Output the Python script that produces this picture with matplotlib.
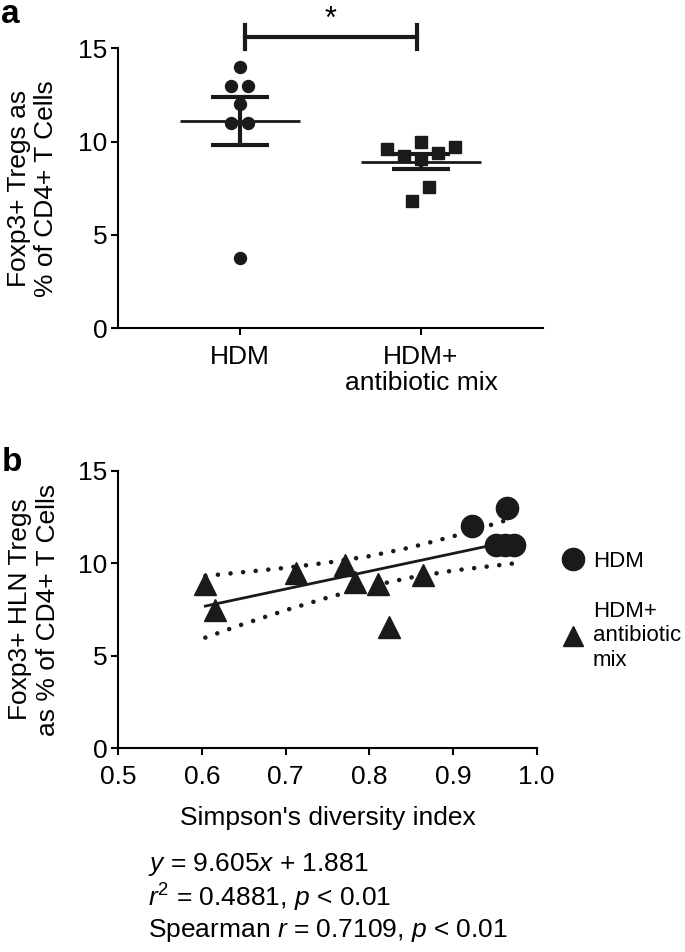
import matplotlib
matplotlib.use('Agg')
import matplotlib.pyplot as plt
from matplotlib.lines import Line2D
import numpy as np

plt.rcParams.update({
    'font.family': ['Liberation Sans', 'DejaVu Sans'],
    'font.size': 19,
    'mathtext.fontset': 'custom',
    'mathtext.rm': 'Liberation Sans',
    'mathtext.it': 'Liberation Sans:italic',
    'axes.linewidth': 1.5,
    'xtick.major.width': 1.5,
    'ytick.major.width': 1.5,
    'xtick.major.size': 5,
    'ytick.major.size': 5,
})

INK = '#1a1a1a'

# ---- panel a: Tregs per group ----
groups = ['HDM', 'HDM+\nantibiotic mix']
hdm_vals = [14.0, 13.0, 13.0, 12.0, 11.0, 11.0, 3.75]
abx_vals = [9.6, 9.23, 10.0, 9.05, 9.41, 9.69, 7.55, 6.82]
# horizontal spread of overlapping points (in point-widths)
hdm_spread = [0, -0.5, 0.5, 0, -0.5, 0.5, 0]
abx_spread = [-2, -1, 0, 0, 1, 2, 0.5, -0.5]
sig_label = '*'

# ---- panel b: Tregs vs Simpson's diversity ----
hdm_simpson = [0.923, 0.965, 0.951, 0.962, 0.973]
hdm_tregs = [12.03, 13.0, 11.0, 11.0, 11.0]
abx_simpson = [0.604, 0.615, 0.712, 0.771, 0.783, 0.810, 0.823, 0.864]
abx_tregs = [8.87, 7.48, 9.49, 9.89, 8.96, 8.89, 6.56, 9.37]
slope, intercept = 9.605, 1.881
band_x = [0.604, 0.65, 0.70, 0.75, 0.80, 0.85, 0.90, 0.973]
band_upper = [9.31, 9.52, 9.75, 10.03, 10.38, 10.86, 11.45, 12.45]
band_lower = [5.98, 6.72, 7.46, 8.14, 8.75, 9.23, 9.60, 9.99]

stats_lines = [
    '$y$ = 9.605$x$ + 1.881',
    '$r^2$ = 0.4881, $p$ < 0.01',
    'Spearman $r$ = 0.7109, $p$ < 0.01',
]

fig = plt.figure(figsize=(6.85, 9.52), dpi=100)

# ================= panel a =================
ax1 = fig.add_axes([0.1727, 0.6551, 0.62, 0.2942])
step = 0.094
for i, (vals, spread, marker) in enumerate([(hdm_vals, hdm_spread, 'o'),
                                            (abx_vals, abx_spread, 's')]):
    pos = i + 1
    xs = pos + np.array(spread) * step
    ax1.plot(xs, vals, marker, color=INK, markersize=8.6, linestyle='none',
             zorder=3)
    mean = np.mean(vals)
    sem = np.std(vals, ddof=1) / np.sqrt(len(vals))
    ax1.hlines(mean, pos - 0.33, pos + 0.33, color=INK, linewidth=2, zorder=4)
    ax1.errorbar(pos, mean, yerr=sem, color=INK, elinewidth=3, capsize=21,
                 capthick=3, linestyle='none', zorder=4)

# significance bracket
ax1.plot([1.03, 1.98], [15.62, 15.62], color=INK, linewidth=3, clip_on=False)
for xb in (1.03, 1.98):
    ax1.plot([xb, xb], [14.98, 16.27], color=INK, linewidth=3, clip_on=False)
ax1.text(1.5, 16.5, sig_label, ha='center', va='center', fontsize=22,
         clip_on=False)

ax1.set_xlim(0.328, 2.674)
ax1.set_ylim(0, 15)
ax1.set_xticks([1, 2])
ax1.set_xticklabels(groups, linespacing=1.1)
ax1.set_yticks([0, 5, 10, 15])
ax1.set_ylabel('Foxp3+ Tregs as\n% of CD4+ T Cells', linespacing=1.2,
               labelpad=14)
ax1.tick_params(axis='x', pad=7)
ax1.tick_params(axis='y', pad=3)
for side in ('top', 'right'):
    ax1.spines[side].set_visible(False)

# ================= panel b =================
ax2 = fig.add_axes([0.1727, 0.2140, 0.6108, 0.2916])
xl = np.array([min(abx_simpson), max(hdm_simpson)])
ax2.plot(xl, slope * xl + intercept, color=INK, linewidth=2, zorder=2)
for band in (band_upper, band_lower):
    ax2.plot(band_x, band, color=INK, linewidth=3.3,
             linestyle=(0, (0.01, 2.75)), dash_capstyle='round', zorder=2)
ax2.plot(hdm_simpson, hdm_tregs, 'o', color=INK, markersize=16,
         linestyle='none', zorder=3)
ax2.plot(abx_simpson, abx_tregs, '^', color=INK, markersize=16,
         linestyle='none', zorder=3)

ax2.set_xlim(0.5, 1.0)
ax2.set_ylim(0, 15)
ax2.set_xticks([0.5, 0.6, 0.7, 0.8, 0.9, 1.0])
ax2.set_xticklabels(['0.5', '0.6', '0.7', '0.8', '0.9', '1.0'])
ax2.set_yticks([0, 5, 10, 15])
ax2.set_xlabel("Simpson's diversity index", fontsize=19, labelpad=12)
ax2.set_ylabel('Foxp3+ HLN Tregs\nas % of CD4+ T Cells', linespacing=1.2,
               labelpad=13)
ax2.tick_params(axis='x', pad=7)
ax2.tick_params(axis='y', pad=3)
for side in ('top', 'right'):
    ax2.spines[side].set_visible(False)

handles = [
    Line2D([], [], marker='o', color=INK, linestyle='none', markersize=16),
    Line2D([], [], marker='^', color=INK, linestyle='none', markersize=15),
]
ax2.legend(handles, ['HDM', 'HDM+\nantibiotic\nmix'], loc='center left',
           bbox_to_anchor=(1.06, 0.495), frameon=False, borderpad=0,
           borderaxespad=0, handlelength=1.0, handletextpad=0.4,
           labelspacing=1.3, fontsize=16)

# stats text
for k, line in enumerate(stats_lines):
    fig.text(0.216, 0.0915 - k * 0.0347, line, fontsize=19, ha='left',
             va='center')

# panel letters
fig.text(0.002, 0.976, 'a', fontsize=24, fontweight='bold', va='baseline')
fig.text(0.002, 0.5053, 'b', fontsize=24, fontweight='bold', va='baseline')

fig.savefig('out.png', dpi=100)
